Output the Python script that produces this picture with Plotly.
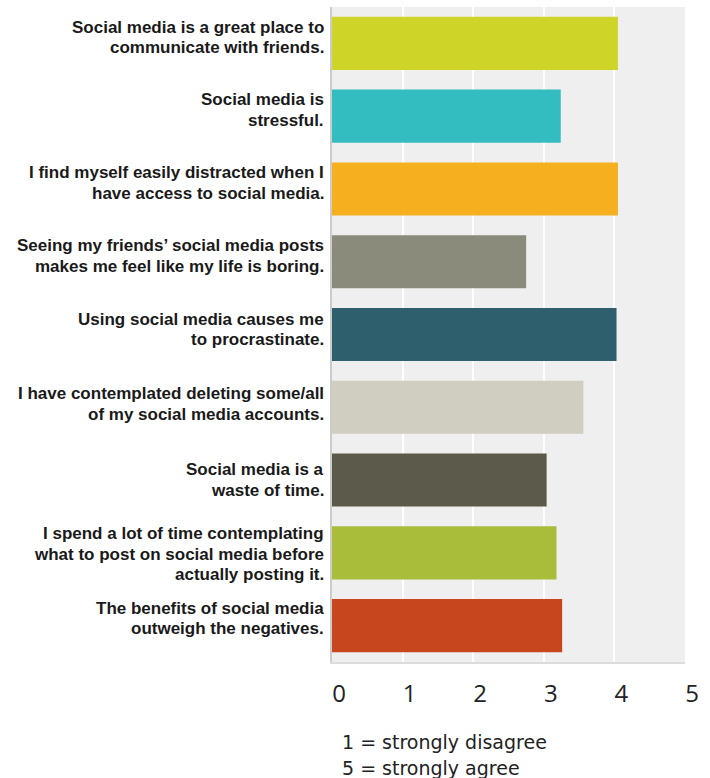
import plotly.graph_objects as go

categories = [
    "Social media is a great place to<br>communicate with friends.",
    "Social media is<br>stressful.",
    "I find myself easily distracted when I<br>have access to social media.",
    "Seeing my friends\u2019 social media posts<br>makes me feel like my life is boring.",
    "Using social media causes me<br>to procrastinate.",
    "I have contemplated deleting some/all<br>of my social media accounts.",
    "Social media is a<br>waste of time.",
    "I spend a lot of time contemplating<br>what to post on social media before<br>actually posting it.",
    "The benefits of social media<br>outweigh the negatives.",
]
values = [4.05, 3.24, 4.05, 2.75, 4.03, 3.56, 3.04, 3.18, 3.26]
colors = ["#CFD428", "#33BDC0", "#F6AF1F", "#8A8B7B", "#2E5F6C",
          "#D0CEC0", "#5B5A4B", "#AABD3B", "#C8461D"]
tick_vals = [0, 1, 2, 3, 4, 5]
notes = ["1 = strongly disagree", "5 = strongly agree"]
# small vertical nudges (px, up) of each label block, as in the original
label_nudge = [6, 6, 6, 6, 5, 3.5, 0, -1.5, 7]

fig = go.Figure(go.Bar(
    x=values, y=categories, orientation="h",
    marker=dict(color=colors, line=dict(width=0)),
    width=0.73, hoverinfo="x+y",
))

LINE_H = 20.6
for cat, nud in zip(categories, label_nudge):
    lines = cat.split("<br>")
    n = len(lines)
    for i, ln in enumerate(lines):
        off = ((n - 1) / 2 - i) * LINE_H + nud
        fig.add_annotation(
            xref="paper", yref="y", x=0, y=cat, text="<b>" + ln + "</b>",
            xanchor="right", yanchor="middle", xshift=-6, yshift=off,
            showarrow=False, align="right",
            font=dict(family="Arial, Liberation Sans, sans-serif", size=17, color="#1a1a1a"),
        )

for i, t in enumerate(notes):
    fig.add_annotation(
        xref="paper", yref="paper", x=0, y=0, text=t,
        xanchor="left", yanchor="middle", xshift=8, yshift=-80 - 25.5 * i,
        showarrow=False, align="left",
        font=dict(family="DejaVu Sans, sans-serif", size=19, color="#222222"),
    )

fig.update_layout(
    width=710, height=778,
    margin=dict(l=332, r=25, t=7, b=116),
    paper_bgcolor="white", plot_bgcolor="#EFEFEF",
    showlegend=False, bargap=0.27,
    xaxis=dict(
        range=[0, 5], tickvals=tick_vals, ticktext=[str(v) for v in tick_vals],
        showgrid=True, gridcolor="white", gridwidth=2, zeroline=False,
        showline=True, linecolor="#DCDCDC", linewidth=2, mirror=False,
        ticks="", ticklabelshift=7, ticklabelstandoff=9,
        tickfont=dict(family="Open Sans, sans-serif", size=24, color="#222222"),
        fixedrange=True,
    ),
    yaxis=dict(
        autorange="reversed", showticklabels=False, showgrid=False,
        showline=True, linecolor="#CCCCCC", linewidth=2, zeroline=False,
        ticks="", fixedrange=True,
    ),
)

fig.write_html(
    "out.html",
    config={"displayModeBar": False},
    post_script="document.body.style.margin='0';document.body.style.padding='0';",
)
